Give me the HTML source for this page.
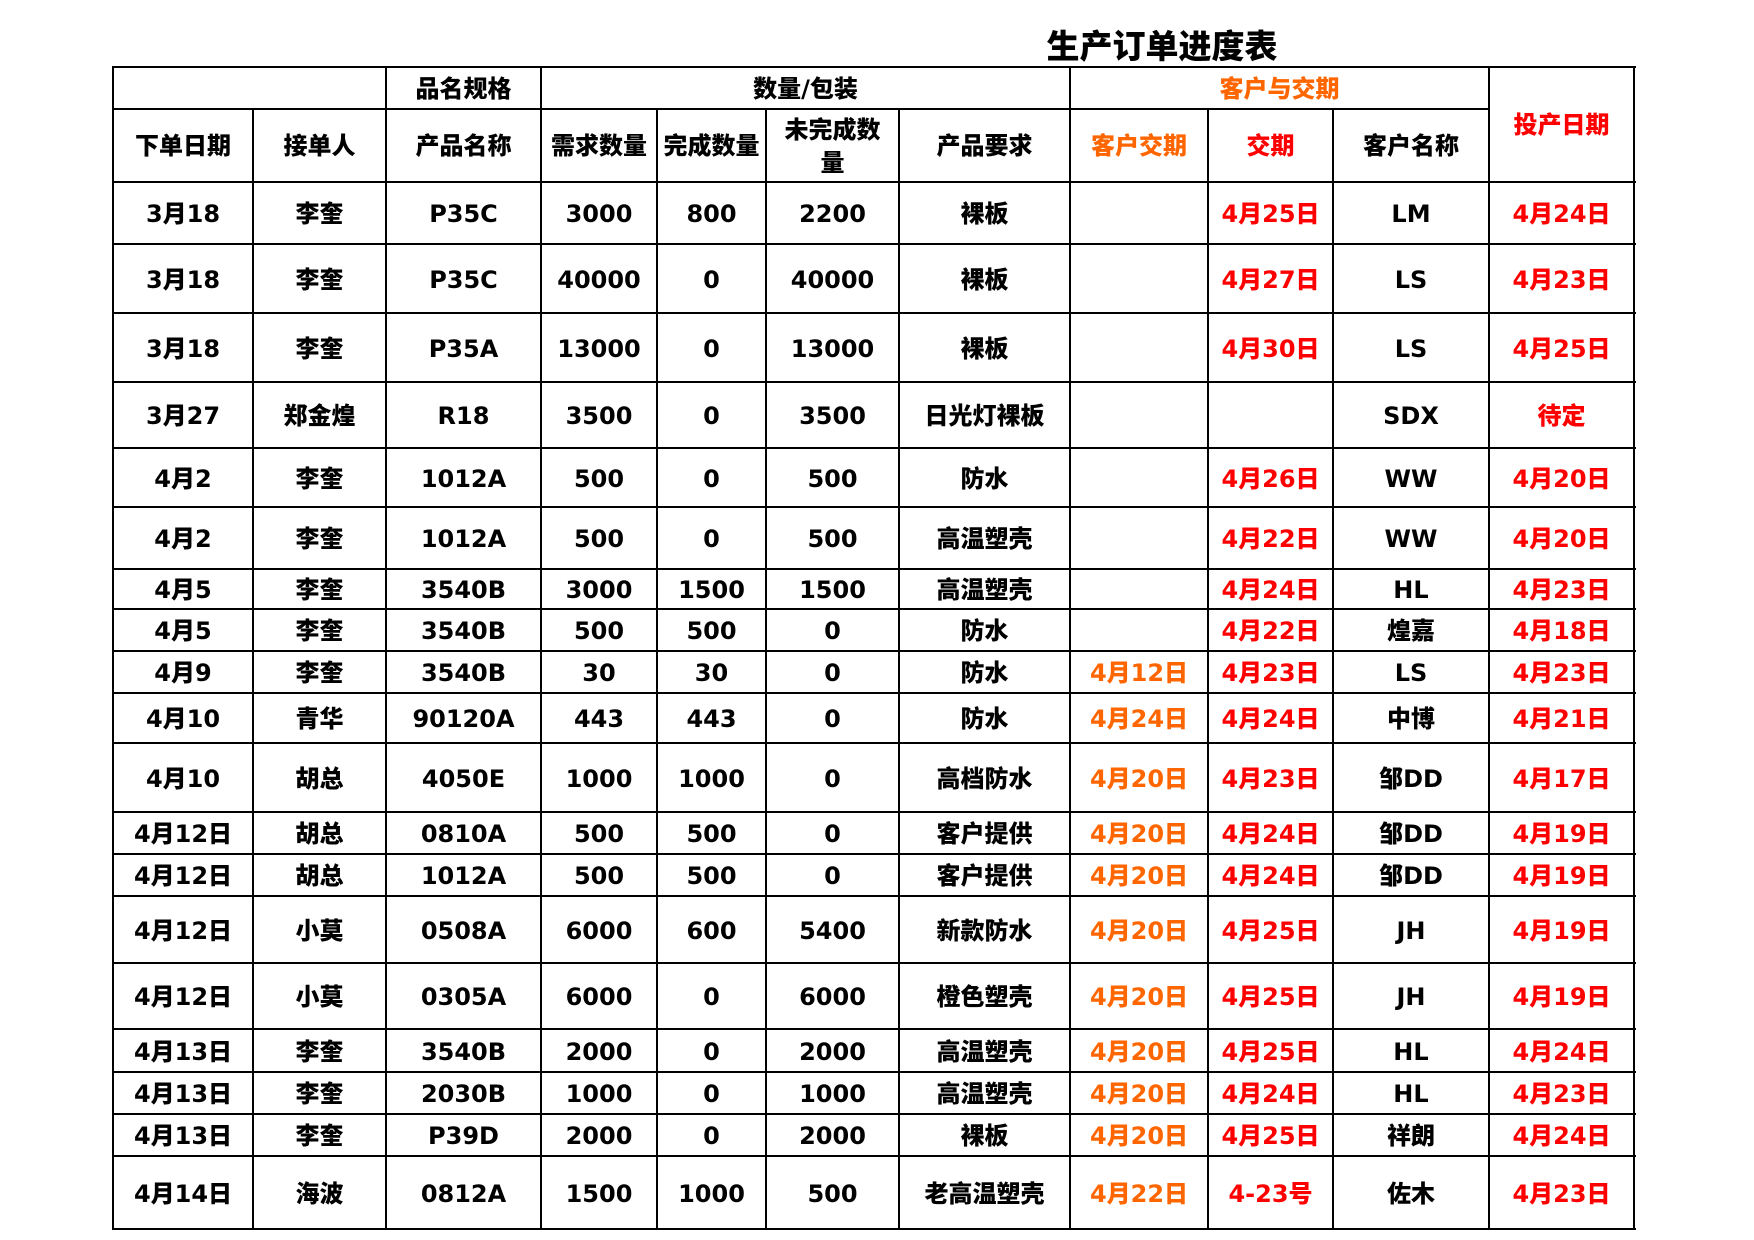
<!DOCTYPE html>
<html><head><meta charset="utf-8">
<style>
html,body{margin:0;padding:0;background:#fff;}
body{width:1754px;height:1240px;position:relative;overflow:hidden;font-family:"DejaVu Sans","Noto Sans CJK SC",sans-serif;font-weight:900;color:#000;}
.h{position:absolute;left:112px;width:1524px;height:2px;background:#000;}
.v{position:absolute;width:2px;background:#000;}
.c{position:absolute;display:flex;align-items:center;justify-content:center;text-align:center;font-size:24px;line-height:33px;padding-top:2px;box-sizing:border-box;}
.g{position:absolute;left:113px;top:182px;display:grid;
grid-template-columns:140px 133px 155px 116px 109px 133px 171px 138px 125px 156px 145px;
grid-template-rows:62px 69px 69px 66px 59px 62px 40px 42px 42px 50px 69px 42px 42px 67px 66px 43px 42px 42px 73px;}
.g div{display:flex;align-items:center;justify-content:center;font-size:24px;line-height:1;white-space:nowrap;padding-top:2px;box-sizing:border-box;}
.r{color:#ff0000;}
.o{color:#ff6600;}
.t{position:absolute;left:1040px;width:244px;top:29px;font-size:33px;line-height:36px;text-align:center;white-space:nowrap;}
</style></head><body>
<div class="t">生产订单进度表</div>

<!-- horizontal lines -->
<div class="h" style="top:66px;height:2px"></div>
<div class="h" style="top:108px;width:1378px"></div>
<div class="h" style="top:181px"></div>
<div class="h" style="top:243px"></div>
<div class="h" style="top:312px"></div>
<div class="h" style="top:381px"></div>
<div class="h" style="top:447px"></div>
<div class="h" style="top:506px"></div>
<div class="h" style="top:568px"></div>
<div class="h" style="top:608px"></div>
<div class="h" style="top:650px"></div>
<div class="h" style="top:692px"></div>
<div class="h" style="top:742px"></div>
<div class="h" style="top:811px"></div>
<div class="h" style="top:853px"></div>
<div class="h" style="top:895px"></div>
<div class="h" style="top:962px"></div>
<div class="h" style="top:1028px"></div>
<div class="h" style="top:1071px"></div>
<div class="h" style="top:1113px"></div>
<div class="h" style="top:1155px"></div>
<div class="h" style="top:1228px"></div>

<!-- vertical lines -->
<div class="v" style="left:112px;top:66px;height:1164px"></div>
<div class="v" style="left:252px;top:108px;height:1122px"></div>
<div class="v" style="left:385px;top:66px;height:1164px"></div>
<div class="v" style="left:540px;top:66px;height:1164px"></div>
<div class="v" style="left:656px;top:108px;height:1122px"></div>
<div class="v" style="left:765px;top:108px;height:1122px"></div>
<div class="v" style="left:898px;top:108px;height:1122px"></div>
<div class="v" style="left:1069px;top:66px;height:1164px"></div>
<div class="v" style="left:1207px;top:108px;height:1122px"></div>
<div class="v" style="left:1332px;top:108px;height:1122px"></div>
<div class="v" style="left:1488px;top:66px;height:1164px"></div>
<div class="v" style="left:1633px;top:66px;height:1164px"></div>

<!-- header row 1 -->
<div class="c" style="left:386px;width:155px;top:67px;height:42px">品名规格</div>
<div class="c" style="left:541px;width:529px;top:67px;height:42px">数量/包装</div>
<div class="c o" style="left:1070px;width:419px;top:67px;height:42px">客户与交期</div>
<div class="c r" style="left:1489px;width:145px;top:67px;height:115px">投产日期</div>
<!-- header row 2 -->
<div class="c" style="left:113px;width:140px;top:109px;height:73px">下单日期</div>
<div class="c" style="left:253px;width:133px;top:109px;height:73px">接单人</div>
<div class="c" style="left:386px;width:155px;top:109px;height:73px">产品名称</div>
<div class="c" style="left:541px;width:116px;top:109px;height:73px">需求数量</div>
<div class="c" style="left:657px;width:109px;top:109px;height:73px">完成数量</div>
<div class="c" style="left:766px;width:133px;top:109px;height:73px">未完成数<br>量</div>
<div class="c" style="left:899px;width:171px;top:109px;height:73px">产品要求</div>
<div class="c o" style="left:1070px;width:138px;top:109px;height:73px">客户交期</div>
<div class="c r" style="left:1208px;width:125px;top:109px;height:73px">交期</div>
<div class="c" style="left:1333px;width:156px;top:109px;height:73px">客户名称</div>

<div class="g">
<div>3月18</div><div>李奎</div><div>P35C</div><div>3000</div><div>800</div><div>2200</div><div>裸板</div><div></div><div class="r">4月25日</div><div>LM</div><div class="r">4月24日</div>
<div>3月18</div><div>李奎</div><div>P35C</div><div>40000</div><div>0</div><div>40000</div><div>裸板</div><div></div><div class="r">4月27日</div><div>LS</div><div class="r">4月23日</div>
<div>3月18</div><div>李奎</div><div>P35A</div><div>13000</div><div>0</div><div>13000</div><div>裸板</div><div></div><div class="r">4月30日</div><div>LS</div><div class="r">4月25日</div>
<div>3月27</div><div>郑金煌</div><div>R18</div><div>3500</div><div>0</div><div>3500</div><div>日光灯裸板</div><div></div><div></div><div>SDX</div><div class="r">待定</div>
<div>4月2</div><div>李奎</div><div>1012A</div><div>500</div><div>0</div><div>500</div><div>防水</div><div></div><div class="r">4月26日</div><div>WW</div><div class="r">4月20日</div>
<div>4月2</div><div>李奎</div><div>1012A</div><div>500</div><div>0</div><div>500</div><div>高温塑壳</div><div></div><div class="r">4月22日</div><div>WW</div><div class="r">4月20日</div>
<div>4月5</div><div>李奎</div><div>3540B</div><div>3000</div><div>1500</div><div>1500</div><div>高温塑壳</div><div></div><div class="r">4月24日</div><div>HL</div><div class="r">4月23日</div>
<div>4月5</div><div>李奎</div><div>3540B</div><div>500</div><div>500</div><div>0</div><div>防水</div><div></div><div class="r">4月22日</div><div>煌嘉</div><div class="r">4月18日</div>
<div>4月9</div><div>李奎</div><div>3540B</div><div>30</div><div>30</div><div>0</div><div>防水</div><div class="o">4月12日</div><div class="r">4月23日</div><div>LS</div><div class="r">4月23日</div>
<div>4月10</div><div>青华</div><div>90120A</div><div>443</div><div>443</div><div>0</div><div>防水</div><div class="o">4月24日</div><div class="r">4月24日</div><div>中博</div><div class="r">4月21日</div>
<div>4月10</div><div>胡总</div><div>4050E</div><div>1000</div><div>1000</div><div>0</div><div>高档防水</div><div class="o">4月20日</div><div class="r">4月23日</div><div>邹DD</div><div class="r">4月17日</div>
<div>4月12日</div><div>胡总</div><div>0810A</div><div>500</div><div>500</div><div>0</div><div>客户提供</div><div class="o">4月20日</div><div class="r">4月24日</div><div>邹DD</div><div class="r">4月19日</div>
<div>4月12日</div><div>胡总</div><div>1012A</div><div>500</div><div>500</div><div>0</div><div>客户提供</div><div class="o">4月20日</div><div class="r">4月24日</div><div>邹DD</div><div class="r">4月19日</div>
<div>4月12日</div><div>小莫</div><div>0508A</div><div>6000</div><div>600</div><div>5400</div><div>新款防水</div><div class="o">4月20日</div><div class="r">4月25日</div><div>JH</div><div class="r">4月19日</div>
<div>4月12日</div><div>小莫</div><div>0305A</div><div>6000</div><div>0</div><div>6000</div><div>橙色塑壳</div><div class="o">4月20日</div><div class="r">4月25日</div><div>JH</div><div class="r">4月19日</div>
<div>4月13日</div><div>李奎</div><div>3540B</div><div>2000</div><div>0</div><div>2000</div><div>高温塑壳</div><div class="o">4月20日</div><div class="r">4月25日</div><div>HL</div><div class="r">4月24日</div>
<div>4月13日</div><div>李奎</div><div>2030B</div><div>1000</div><div>0</div><div>1000</div><div>高温塑壳</div><div class="o">4月20日</div><div class="r">4月24日</div><div>HL</div><div class="r">4月23日</div>
<div>4月13日</div><div>李奎</div><div>P39D</div><div>2000</div><div>0</div><div>2000</div><div>裸板</div><div class="o">4月20日</div><div class="r">4月25日</div><div>祥朗</div><div class="r">4月24日</div>
<div>4月14日</div><div>海波</div><div>0812A</div><div>1500</div><div>1000</div><div>500</div><div>老高温塑壳</div><div class="o">4月22日</div><div class="r">4-23号</div><div>佐木</div><div class="r">4月23日</div>
</div>
</body></html>
